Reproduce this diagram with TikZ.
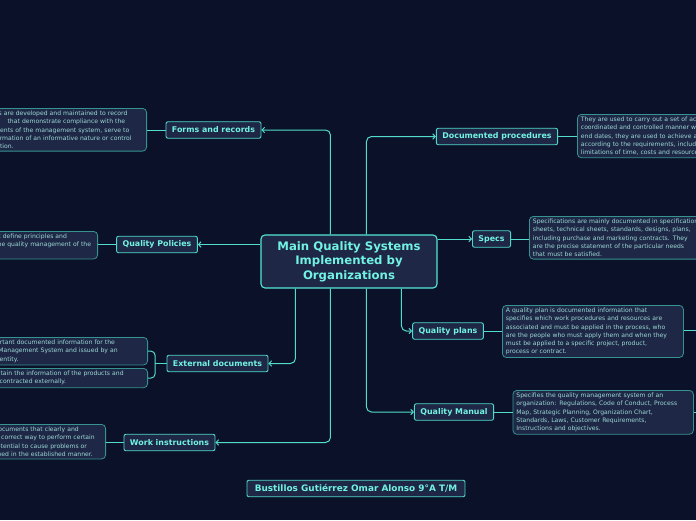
\documentclass[tikz,border=0pt]{standalone}
\usepackage{fontspec}
\setmainfont{DejaVu Sans}
\usetikzlibrary{arrows.meta}
\definecolor{bgc}{HTML}{0A1128}
\definecolor{fillc}{HTML}{1E2746}
\definecolor{mainbd}{HTML}{55E6D4}
\definecolor{brbd}{HTML}{4FD9C9}
\definecolor{notebd}{HTML}{35948F}
\definecolor{titlec}{HTML}{72F2E2}
\definecolor{notetx}{HTML}{9CD9D4}
\definecolor{connc}{HTML}{52DCCB}
\tikzset{
  mainbox/.style={draw=mainbd, fill=fillc, rounded corners=4pt, line width=1.1pt,
    minimum width=176pt, minimum height=53pt, align=center, text=titlec,
    font=\bfseries\fontsize{11.7}{14.5}\selectfont},
  branch/.style={draw=brbd, fill=fillc, rounded corners=2pt, line width=0.9pt,
    text=titlec, font=\bfseries\fontsize{7.9}{9}\selectfont,
    inner xsep=6pt, inner ysep=2pt, minimum height=16.5pt},
  note/.style={draw=notebd, fill=fillc, rounded corners=4pt, line width=0.8pt,
    text=notetx, font=\fontsize{6.1}{8.2}\selectfont, align=left,
    inner xsep=3.5pt, inner ysep=2.6pt},
  conn/.style={draw=connc, line width=1pt, rounded corners=5pt},
  arr/.style={-{Straight Barb[length=2.5pt,width=5.5pt]}},
}
\begin{document}
\begin{tikzpicture}[x=1pt,y=-1pt]
\fill[bgc] (0,0) rectangle (696,520);
\useasboundingbox (0,0) rectangle (696,520);

% central
\node[mainbox] (central) at (349,261.5) {Main Quality Systems\\Implemented by\\Organizations};

% branches
\node[branch] (forms) at (213.5,130) {Forms and records};
\node[branch] (policies) at (157,244.5) {Quality Policies};
\node[branch] (extdoc) at (217.5,363.5) {External documents};
\node[branch] (work) at (169.5,442.5) {Work instructions};
\node[branch] (docproc) at (497,136.5) {Documented procedures};
\node[branch] (specs) at (491.5,239) {Specs};
\node[branch] (plans) at (448,331) {Quality plans};
\node[branch] (manual) at (454,412) {Quality Manual};
\node[branch, minimum width=218pt, inner xsep=4pt, font=\bfseries\fontsize{8.9}{10}\selectfont] (author) at (356,488.5) {Bustillos Gutiérrez Omar Alonso 9°A T/M};

% notes left
\node[note, anchor=north east, text width=165.5pt] (formsnote) at (147,108)
 {\mbox{Records are developed and maintained to record}\\
  \mbox{\hspace*{30pt}that demonstrate compliance with the}\\
  \mbox{\hspace*{-5pt}requirements of the management system, serve to}\\
  \mbox{\hspace*{-6pt}keep information of an informative nature or control}\\
  \mbox{verification.}};
\node[note, anchor=north east, text width=142.5pt] (polnote) at (98,231)
 {\mbox{Documents that define principles and}\\
  \mbox{guidelines for the quality management of the}\\
  \mbox{company.}};
\node[note, anchor=north east, text width=159.5pt] (extnote1) at (148,337)
 {\mbox{Important documented information for the}\\
  \mbox{\hspace*{-10pt}Quality Management System and issued by an}\\
  \mbox{\hspace*{-12pt}external entity.}};
\node[note, anchor=north east, text width=171.5pt] (extnote2) at (148,368)
 {\mbox{They contain the information of the products and}\\
  \mbox{services contracted externally.}};
\node[note, anchor=north east, text width=136.5pt] (worknote) at (106,424)
 {\mbox{They are documents that clearly and}\\
  \mbox{specify the correct way to perform certain}\\
  \mbox{\hspace*{-4pt}that have potential to cause problems or}\\
  \mbox{if not followed in the established manner.}};

% notes right
\node[note, anchor=north west, text width=200pt] (docnote) at (577,114)
 {\mbox{They are used to carry out a set of activities in a}\\
  \mbox{coordinated and controlled manner with start and}\\
  \mbox{end dates, they are used to achieve an objective}\\
  \mbox{according to the requirements, including the}\\
  \mbox{limitations of time, costs and resources.}};
\node[note, anchor=north west, text width=190pt] (specsnote) at (529,216)
 {\mbox{Specifications are mainly documented in specification}\\
  \mbox{sheets, technical sheets, standards, designs, plans,}\\
  \mbox{including purchase and marketing contracts. They}\\
  \mbox{are the precise statement of the particular needs}\\
  \mbox{that must be satisfied.}};
\node[note, anchor=north west, text width=174pt] (plansnote) at (502,305)
 {\mbox{A quality plan is documented information that}\\
  \mbox{specifies which work procedures and resources are}\\
  \mbox{associated and must be applied in the process, who}\\
  \mbox{are the people who must apply them and when they}\\
  \mbox{must be applied to a specific project, product,}\\
  \mbox{process or contract.}};
\node[note, anchor=north west, text width=173.5pt] (manualnote) at (512.5,390)
 {\mbox{Specifies the quality management system of an}\\
  \mbox{organization: Regulations, Code of Conduct, Process}\\
  \mbox{Map, Strategic Planning, Organization Chart,}\\
  \mbox{Standards, Laws, Customer Requirements,}\\
  \mbox{Instructions and objectives.}};

% connectors central -> branches
\draw[conn,arr] (central.north west) ++(70,0) |- (forms.east);
\draw[conn,arr] (central.north west) ++(106,0) |- (docproc.west);
\draw[conn,arr] (central.west |- policies.east) -- (policies.east);
\draw[conn,arr] (central.east |- specs.west) -- (specs.west);
\draw[conn,arr] (central.south west) ++(35,0) |- (extdoc.east);
\draw[conn,arr] (central.south west) ++(70,0) |- (work.east);
\draw[conn,arr] (central.south west) ++(141,0) |- (plans.west);
\draw[conn,arr] (central.south west) ++(106,0) |- (manual.west);

% branch -> notes
\draw[conn] (forms.west) -- (formsnote.east |- forms.west);
\draw[conn] (policies.west) -- (polnote.east |- policies.west);
\draw[conn] (work.west) -- (worknote.east |- work.west);
\draw[conn] (docproc.east) -- (docnote.west |- docproc.east);
\draw[conn] (specs.east) -- (specsnote.west |- specs.east);
\draw[conn] (plans.east) -- (plansnote.west |- plans.east);
\draw[conn] (manual.east) -- (manualnote.west |- manual.east);
\coordinate (bk) at (155,363.5);
\draw[conn] (extdoc.west) -- (bk);
\draw[conn,rounded corners=4pt] (extnote1.east) -| (bk) |- (extnote2.east);

% lines leaving the picture
\coordinate (offp) at (710,330);
\coordinate (offm) at (710,412);
\draw[conn] (plansnote.east |- offp) -- (offp);
\draw[conn] (manualnote.east |- offm) -- (offm);
\end{tikzpicture}
\end{document}
